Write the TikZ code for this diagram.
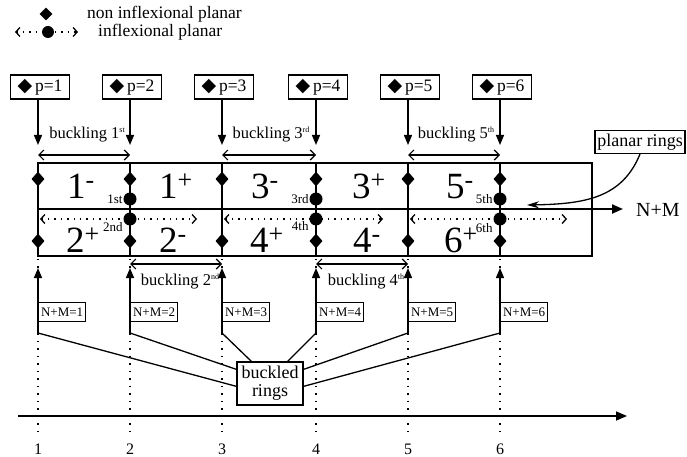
\documentclass[tikz,border=0pt]{standalone}
\usepackage{fontspec}
\setmainfont{Liberation Serif}
\newfontfamily\symfont{DejaVu Sans}
\usetikzlibrary{arrows.meta,shapes.geometric,calc}
\tikzset{
  dia/.style={diamond,fill=black,inner sep=0pt,minimum width=13pt,minimum height=15pt},
  ring/.style={circle,fill=black,inner sep=0pt,minimum size=13pt},
  pbox/.style={draw,line width=1.2pt,minimum width=59pt,minimum height=24pt,inner sep=1pt,font=\fontsize{17.5}{17.5}\selectfont},
  nmbox/.style={draw,line width=1.1pt,minimum height=19pt,inner sep=2.5pt,anchor=west,font=\fontsize{13}{13}\selectfont},
  big/.style={font=\fontsize{37}{37}\selectfont,anchor=base,inner sep=0pt},
  ord/.style={font=\fontsize{13}{13}\selectfont,inner sep=0.5pt},
  buck/.style={font=\fontsize{16.5}{16.5}\selectfont,inner sep=0pt},
  darr/.style={{Straight Barb[length=5pt,width=10pt]}-{Straight Barb[length=5pt,width=10pt]},line width=1.2pt},
  dotarr/.style={{Straight Barb[length=4pt,width=9pt]}-{Straight Barb[length=4pt,width=9pt]},line width=1.3pt,dash pattern=on 1.4pt off 5pt},
  tri/.style={-{Triangle[length=10pt,width=8pt]},line width=1.3pt},
  vdot/.style={line width=1.4pt,dash pattern=on 1.5pt off 6pt},
  frame/.style={line width=2pt},
  vline/.style={line width=2.8pt},
  conn/.style={line width=1.3pt},
  legtext/.style={font=\fontsize{17.5}{17.5}\selectfont,anchor=west,inner sep=0pt},
  axnum/.style={font=\fontsize{16}{16}\selectfont,anchor=base,inner sep=0pt},
}
\newcommand{\sups}[1]{\raisebox{6pt}{\fontsize{8}{8}\selectfont #1}}
\begin{document}
\begin{tikzpicture}[x=1pt,y=-1pt]
\useasboundingbox (0,0) rectangle (687,457);

% legend
\node[dia,minimum width=13pt,minimum height=13pt] (legdia) at (46,14) {};
\node[legtext] (legt1) at (87,14) {non inflexional planar};
\coordinate (lega) at (15,32);
\coordinate (legb) at (78,32);
\draw[dotarr] (lega) -- (legb);
\node[ring,minimum size=12pt] (legdot) at (48,32) {};
\node[legtext] (legt2) at (98,32) {inflexional planar};

% frame
\coordinate (rtl) at (38,163);
\coordinate (rbr) at (592,256);
\draw[frame] (rtl) rectangle (rbr);
\coordinate (mleft) at (38,209);
\coordinate (mright) at (623,209);
\draw[frame,-{Triangle[length=11pt,width=9pt]}] (mleft) -- (mright);
\node[font=\fontsize{20}{20}\selectfont,anchor=west,inner sep=0pt] (nmlab) at (636,210) {N+M};

\foreach \i/\x in {1/38,2/130,3/222,4/316,5/408,6/500} {
  \coordinate (top\i) at (\x,163);
  \coordinate (bot\i) at (\x,256);
  \node[pbox] (p\i) at (\x+2,87) {{\symfont\fontsize{19}{19}\selectfont ◆}\,p=\i};
  \coordinate (pt\i) at (\x,145);
  \draw[tri] (p\i.south -| pt\i) -- (pt\i);
  \coordinate (ds\i) at (\x,258.5);
  \coordinate (ut\i) at (\x,268);
  \coordinate (ub\i) at (\x,333);
  \coordinate (ue\i) at (\x,431);
  \draw[vdot] (ds\i) -- (ut\i);
  \draw[tri] (ub\i) -- (ut\i);
  \node[nmbox] (nm\i) at (\x,312) {N+M=\i};
  \draw[vdot] (ub\i) -- (ue\i);
  \node[axnum] (n\i) at (\x,454) {\i};
}
\foreach \i in {2,...,6} { \draw[vline] (top\i) -- (bot\i); }

% dotted arrows
\foreach \k/\a/\b in {1/38/130,2/222/316,3/408/500} {
  \coordinate (da\k) at (\a+2,219);
  \coordinate (db\k) at (\b+67,219);
  \draw[dotarr] (da\k) -- (db\k);
}

% diamonds and rings
\foreach \i/\x in {1/38,2/130,3/222,4/316,5/408,6/500} {
  \node[dia] (du\i) at (\x,179) {};
  \node[dia] (dl\i) at (\x,241) {};
}
\foreach \i/\x in {2/130,4/316,6/500} {
  \node[ring] (cu\i) at (\x,199) {};
  \node[ring] (cl\i) at (\x,219) {};
}
\node[ord,anchor=east] (o1) at (cu2.west) {1st};
\node[ord,anchor=east] (o2) at ([yshift=-8pt]cl2.west) {2nd};
\node[ord,anchor=east] (o3) at (cu4.west) {3rd};
\node[ord,anchor=east] (o4) at ([yshift=-7pt]cl4.west) {4th};
\node[ord,anchor=east] (o5) at (cu6.west) {5th};
\node[ord,anchor=east] (o6) at ([yshift=-9pt]cl6.west) {6th};

% big labels
\node[big] (a1) at (81,198) {1\textsuperscript{-}};
\node[big] (a2) at (176,198) {1\textsuperscript{+}};
\node[big] (a3) at (83,252) {2\textsuperscript{+}};
\node[big] (a4) at (173,252) {2\textsuperscript{-}};
\node[big] (a5) at (265,198) {3\textsuperscript{-}};
\node[big] (a6) at (369,198) {3\textsuperscript{+}};
\node[big] (a7) at (267,252) {4\textsuperscript{+}};
\node[big] (a8) at (367,252) {4\textsuperscript{-}};
\node[big] (a9) at (460,198) {5\textsuperscript{-}};
\node[big] (a10) at (461,252) {6\textsuperscript{+}};

% buckling arrows
\coordinate (b1a) at (38,155);  \coordinate (b1b) at (130,155);
\coordinate (b3a) at (222,155); \coordinate (b3b) at (316,155);
\coordinate (b5a) at (408,155); \coordinate (b5b) at (500,155);
\coordinate (b2a) at (130,264); \coordinate (b2b) at (222,264);
\coordinate (b4a) at (316,264); \coordinate (b4b) at (408,264);
\draw[darr] (b1a) -- (b1b);
\draw[darr] (b3a) -- (b3b);
\draw[darr] (b5a) -- (b5b);
\draw[darr] (b2a) -- (b2b);
\draw[darr] (b4a) -- (b4b);
\node[buck] (bl1) at (87,135) {buckling 1\sups{st}};
\node[buck] (bl3) at (271,135) {buckling 3\sups{rd}};
\node[buck] (bl5) at (456,135) {buckling 5\sups{th}};
\node[buck] (bl2) at (180,282) {buckling 2\sups{nd}};
\node[buck] (bl4) at (366,282) {buckling 4\sups{th}};

% planar rings
\node[draw,line width=1.2pt,font=\fontsize{18}{18}\selectfont,minimum width=90pt,minimum height=23pt,inner sep=2pt] (pr) at (640,142) {planar rings};
\coordinate (prt) at (527,205);
\draw[conn,-{Stealth[length=12pt,width=7pt]}] (pr.south) .. controls (622,198) and (585,204) .. (prt);

% buckled rings
\node[draw,line width=1.3pt,align=center,font=\fontsize{18}{18}\selectfont,minimum width=66pt,minimum height=43pt,inner sep=2pt] (br) at (270,383.5) {buckled\\rings};
\draw[conn] (ub1) -- ([yshift=-25pt]br.north west);
\draw[conn] (ub2) -- ([yshift=-8pt]br.north west);
\draw[conn] (ub3) -- ([xshift=15pt]br.north west);
\draw[conn] (ub4) -- ([xshift=-16pt]br.north east);
\draw[conn] (ub5) -- ([yshift=-8pt]br.north east);
\draw[conn] (ub6) -- ([yshift=-25pt]br.north east);

% axis
\coordinate (ax0) at (18,416);
\coordinate (ax1) at (627,416);
\draw[line width=1.5pt,-{Triangle[length=11pt,width=9pt]}] (ax0) -- (ax1);
\end{tikzpicture}
\end{document}
